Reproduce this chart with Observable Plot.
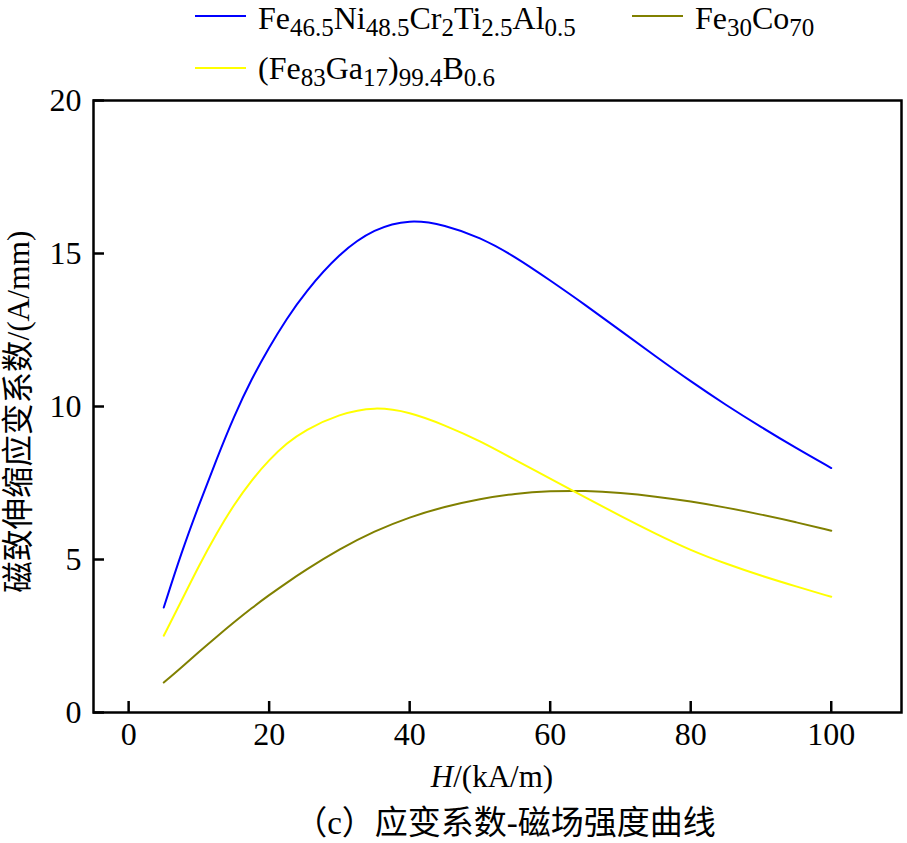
<!DOCTYPE html>
<html>
<head>
<meta charset="utf-8">
<script src="https://cdn.jsdelivr.net/npm/d3@7"></script>
<script src="https://cdn.jsdelivr.net/npm/@observablehq/plot@0.6"></script>
<style>
  html, body { margin: 0; padding: 0; background: #fff; }
  #chart { width: 907px; height: 843px; }
</style>
</head>
<body>
<div id="chart"></div>
<script>
// ---- data ----
const H = [5, 7.5, 10, 12.5, 15, 17.5, 20, 22.5, 25, 30, 35, 40, 45, 50, 55, 60, 65, 70, 75, 80, 85, 90, 95, 100];
const feNiCrTiAl = [3.43, 5.22, 6.78, 8.27, 9.69, 10.9, 11.94, 12.87, 13.7, 15.02, 15.82, 16.12, 15.94, 15.53, 14.9, 14.12, 13.32, 12.48, 11.64, 10.82, 10.05, 9.33, 8.64, 7.99];
const feCo = [0.98, 1.47, 1.98, 2.47, 2.95, 3.41, 3.84, 4.24, 4.63, 5.34, 5.93, 6.39, 6.73, 6.98, 7.16, 7.24, 7.25, 7.18, 7.06, 6.9, 6.7, 6.47, 6.22, 5.94];
const feGaB = [2.51, 3.64, 4.8, 5.85, 6.8, 7.59, 8.26, 8.8, 9.22, 9.76, 10.0, 9.82, 9.39, 8.88, 8.25, 7.65, 7.03, 6.42, 5.84, 5.3, 4.86, 4.47, 4.12, 3.78];
const xTicks = [0, 20, 40, 60, 80, 100];
const yTicks = [0, 5, 10, 15, 20];
const seriesColors = ["#0000ff", "#808000", "#ffff00"];
const yLabel = "磁致伸缩应变系数/(A/mm)";
const caption = "（c）应变系数-磁场强度曲线";

// legend entries as [text, isSubscript] runs
const legendRuns = [
  [["Fe", 0], ["46.5", 1], ["Ni", 0], ["48.5", 1], ["Cr", 0], ["2", 1], ["Ti", 0], ["2.5", 1], ["Al", 0], ["0.5", 1]],
  [["Fe", 0], ["30", 1], ["Co", 0], ["70", 1]],
  [["(Fe", 0], ["83", 1], ["Ga", 0], ["17", 1], [")", 0], ["99.4", 1], ["B", 0], ["0.6", 1]]
];

const mk = (ys) => H.map((h, i) => ({h, v: ys[i]}));

const W = 907, HT = 843, mL = 93, mR = 6, mT = 100, mB = 131;
const plotW = W - mL - mR, plotH = HT - mT - mB;
const tickLen = 11;
const serif = "'Liberation Serif', 'Times New Roman', 'Noto Sans CJK SC', serif";

const chart = Plot.plot({
  width: W, height: HT,
  marginLeft: mL, marginRight: mR, marginTop: mT, marginBottom: mB,
  style: {fontFamily: serif, fontSize: "32px", color: "#000", background: "#fff"},
  x: {domain: [-5, 110]},
  y: {domain: [0, 20]},
  marks: [
    Plot.ruleX(xTicks, {x: d => d, insetTop: plotH - tickLen, stroke: "#000", strokeWidth: 2.5}),
    Plot.ruleY(yTicks, {y: d => d, insetRight: plotW - tickLen, stroke: "#000", strokeWidth: 2.5}),
    Plot.axisX({ticks: xTicks, tickSize: 0, tickPadding: 10, label: null, fontSize: 32}),
    Plot.axisY({ticks: yTicks, tickSize: 0, tickPadding: 12, label: null, fontSize: 32}),
    Plot.line(mk(feNiCrTiAl), {x: "h", y: "v", stroke: seriesColors[0], strokeWidth: 2, curve: "basis"}),
    Plot.line(mk(feCo), {x: "h", y: "v", stroke: seriesColors[1], strokeWidth: 2, curve: "basis"}),
    Plot.line(mk(feGaB), {x: "h", y: "v", stroke: seriesColors[2], strokeWidth: 2, curve: "basis"}),
    Plot.frame({stroke: "#000", strokeWidth: 2.5}),
    Plot.text([yLabel], {frameAnchor: "left", textAnchor: "middle", dx: -75, dy: 5, rotate: -90, fontSize: 31.5, fill: "#000"})
  ]
});
document.getElementById("chart").appendChild(chart);

const svg = d3.select(chart);

// legend
const legendPos = [
  {lx: 195, ly: 16, tx: 258, by: 29},
  {lx: 632, ly: 16, tx: 695, by: 29},
  {lx: 195, ly: 68, tx: 258, by: 79}
];
const lg = svg.append("g").attr("class", "legend");
legendRuns.forEach((runs, i) => {
  const p = legendPos[i];
  lg.append("line").attr("x1", p.lx).attr("x2", p.lx + 51).attr("y1", p.ly).attr("y2", p.ly)
    .attr("stroke", seriesColors[i]).attr("stroke-width", 2);
  const t = lg.append("text").attr("x", p.tx).attr("y", p.by).attr("text-anchor", "start")
    .attr("font-family", serif).attr("font-size", 32).attr("fill", "#000");
  let shifted = false;
  runs.forEach(([s, sub]) => {
    const ts = t.append("tspan").text(s);
    if (sub) { ts.attr("font-size", 25).attr("dy", shifted ? 0 : 7); shifted = true; }
    else { ts.attr("dy", shifted ? -7 : 0); shifted = false; }
  });
});

// x axis label with italic H
const xl = svg.append("text").attr("x", 492).attr("y", 787).attr("text-anchor", "middle")
  .attr("font-family", serif).attr("font-size", 31).attr("fill", "#000");
xl.append("tspan").attr("font-style", "italic").text("H");
xl.append("tspan").text("/(kA/m)");

// caption
svg.append("text").attr("x", 505).attr("y", 834).attr("text-anchor", "middle")
  .attr("font-family", serif).attr("font-size", 33).attr("fill", "#000").text(caption);
</script>
</body>
</html>
